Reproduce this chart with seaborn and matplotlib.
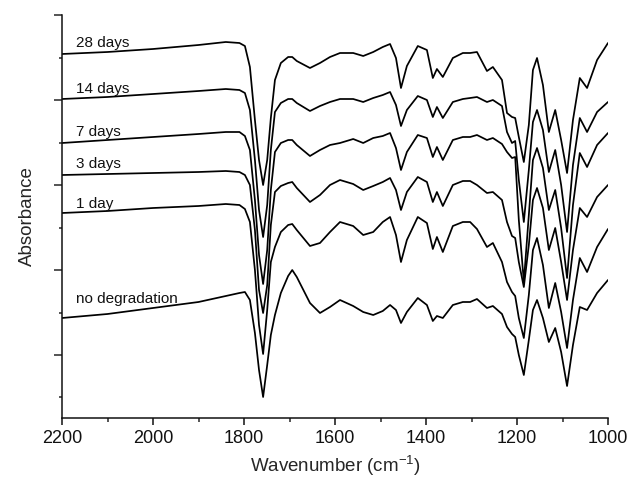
import matplotlib
matplotlib.use("Agg")
import matplotlib.pyplot as plt
import pandas as pd
import seaborn as sns

wavenumber = [2200, 2100, 2000, 1900, 1840, 1810, 1798, 1787, 1776, 1767,
              1758, 1749, 1741, 1732, 1719, 1703, 1694, 1684, 1655, 1633,
              1611, 1589, 1560, 1538, 1516, 1495, 1479, 1466, 1455, 1442,
              1418, 1398, 1385, 1376, 1363, 1341, 1319, 1303, 1288, 1266,
              1253, 1233, 1222, 1211, 1204, 1196, 1185, 1174, 1165, 1156,
              1143, 1130, 1116, 1103, 1090, 1077, 1062, 1046, 1024, 1000]

# absorbance (arbitrary units, traces already offset)
days_28 = [3.64, 3.66, 3.69, 3.73, 3.76, 3.75, 3.72, 3.51, 2.98, 2.58,
           2.33, 2.58, 3.00, 3.38, 3.55, 3.61, 3.61, 3.57, 3.50, 3.55,
           3.61, 3.65, 3.65, 3.62, 3.66, 3.71, 3.74, 3.60, 3.30, 3.52,
           3.72, 3.68, 3.40, 3.49, 3.41, 3.60, 3.65, 3.65, 3.66, 3.47,
           3.51, 3.38, 3.05, 3.01, 3.00, 2.81, 2.56, 2.93, 3.48, 3.60,
           3.33, 2.86, 3.08, 2.78, 2.45, 2.98, 3.40, 3.30, 3.58, 3.75]
days_14 = [3.19, 3.21, 3.24, 3.27, 3.29, 3.28, 3.25, 3.08, 2.58, 2.08,
           1.81, 2.13, 2.68, 3.06, 3.15, 3.19, 3.19, 3.15, 3.07, 3.12,
           3.16, 3.19, 3.19, 3.16, 3.20, 3.23, 3.26, 3.13, 2.92, 3.08,
           3.22, 3.18, 3.01, 3.11, 3.00, 3.16, 3.19, 3.20, 3.21, 3.16,
           3.18, 3.12, 2.86, 2.75, 2.77, 2.38, 1.96, 2.48, 2.96, 3.08,
           2.88, 2.46, 2.68, 2.33, 1.86, 2.53, 3.00, 2.86, 3.06, 3.16]
days_7 = [2.75, 2.78, 2.81, 2.84, 2.86, 2.86, 2.82, 2.68, 2.18, 1.63,
          1.34, 1.68, 2.28, 2.66, 2.75, 2.78, 2.78, 2.73, 2.62, 2.68,
          2.73, 2.75, 2.79, 2.75, 2.80, 2.82, 2.85, 2.70, 2.48, 2.66,
          2.83, 2.80, 2.61, 2.71, 2.58, 2.78, 2.81, 2.81, 2.83, 2.78,
          2.80, 2.74, 2.66, 2.60, 2.61, 1.98, 1.36, 2.03, 2.58, 2.70,
          2.50, 2.08, 2.28, 1.90, 1.40, 2.13, 2.65, 2.51, 2.73, 2.85]
days_3 = [2.43, 2.44, 2.45, 2.46, 2.47, 2.46, 2.43, 2.33, 1.88, 1.28,
          1.05, 1.33, 1.93, 2.26, 2.32, 2.35, 2.36, 2.30, 2.16, 2.23,
          2.33, 2.38, 2.34, 2.28, 2.32, 2.36, 2.40, 2.28, 2.08, 2.26,
          2.41, 2.36, 2.16, 2.26, 2.12, 2.33, 2.37, 2.37, 2.33, 2.25,
          2.26, 2.18, 1.96, 1.82, 1.80, 1.56, 1.31, 1.73, 2.18, 2.30,
          2.10, 1.68, 1.90, 1.56, 1.18, 1.68, 2.10, 2.01, 2.21, 2.33]
day_1 = [2.05, 2.07, 2.10, 2.12, 2.14, 2.13, 2.09, 1.96, 1.48, 0.93,
         0.64, 1.08, 1.56, 1.71, 1.86, 1.93, 1.94, 1.88, 1.72, 1.75,
         1.86, 1.96, 1.92, 1.83, 1.86, 1.96, 2.01, 1.83, 1.56, 1.78,
         2.01, 1.95, 1.69, 1.81, 1.66, 1.92, 1.96, 1.96, 1.89, 1.71,
         1.75, 1.56, 1.36, 1.26, 1.22, 1.00, 0.80, 1.23, 1.68, 1.80,
         1.53, 1.10, 1.35, 1.06, 0.70, 1.18, 1.60, 1.46, 1.71, 1.89]
no_degradation = [1.00, 1.04, 1.10, 1.16, 1.22, 1.25, 1.26, 1.18, 0.85, 0.48,
                  0.21, 0.53, 0.83, 1.03, 1.25, 1.42, 1.48, 1.41, 1.15, 1.05,
                  1.11, 1.18, 1.12, 1.06, 1.03, 1.07, 1.13, 1.08, 0.95, 1.06,
                  1.20, 1.13, 0.97, 1.02, 1.00, 1.13, 1.16, 1.16, 1.19, 1.10,
                  1.12, 1.04, 0.91, 0.84, 0.81, 0.63, 0.43, 0.78, 1.08, 1.18,
                  1.00, 0.76, 0.90, 0.66, 0.32, 0.73, 1.11, 1.08, 1.25, 1.38]

labels = ["28 days", "14 days", "7 days", "3 days", "1 day", "no degradation"]
label_y = [3.71, 3.25, 2.82, 2.50, 2.10, 1.15]

series = [days_28, days_14, days_7, days_3, day_1, no_degradation]
frames = []
for name, vals in zip(labels, series):
    frames.append(pd.DataFrame({"wavenumber": wavenumber, "absorbance": vals, "sample": name}))
df = pd.concat(frames, ignore_index=True)

sns.set_theme(style="ticks")
plt.rcParams["font.family"] = ["Liberation Sans", "DejaVu Sans"]
plt.rcParams["mathtext.default"] = "regular"

fig, ax = plt.subplots(figsize=(6.39, 4.8), dpi=100)
fig.subplots_adjust(left=62/639, right=608/639, bottom=62/480, top=465/480)

sns.lineplot(data=df, x="wavenumber", y="absorbance", units="sample", estimator=None,
             color="black", linewidth=1.25, sort=False, ax=ax)

for name, yy in zip(labels, label_y):
    ax.text(2170, yy, name, fontsize=11, color="#111111", va="baseline", ha="left")

ax.set_xlim(2200, 1000)
ax.set_ylim(0, 4.03)
ax.set_xticks([2200, 2000, 1800, 1600, 1400, 1200, 1000])
ax.set_xticks([2100, 1900, 1700, 1500, 1300, 1100], minor=True)
ax.set_yticks([0.63, 1.48, 2.33, 3.18, 4.03])
ax.set_yticks([0.21, 1.05, 1.90, 2.75, 3.60], minor=True)
ax.set_yticklabels([])

ax.tick_params(axis="x", which="major", direction="out", length=5, width=1.1, labelsize=13, colors="#111111")
ax.tick_params(axis="x", which="minor", direction="out", length=3, width=1.1)
ax.tick_params(axis="y", which="major", direction="out", length=6, width=1.1)
ax.tick_params(axis="y", which="minor", direction="out", length=2.5, width=1.1)

sns.despine(ax=ax)
for side in ["left", "bottom"]:
    ax.spines[side].set_linewidth(1.1)
    ax.spines[side].set_color("#111111")

ax.set_xlabel("Wavenumber (cm$^{-1}$)", fontsize=13.5, labelpad=5)
ax.set_ylabel("Absorbance", fontsize=13.5, labelpad=9)

fig.savefig("out.png", dpi=100)
